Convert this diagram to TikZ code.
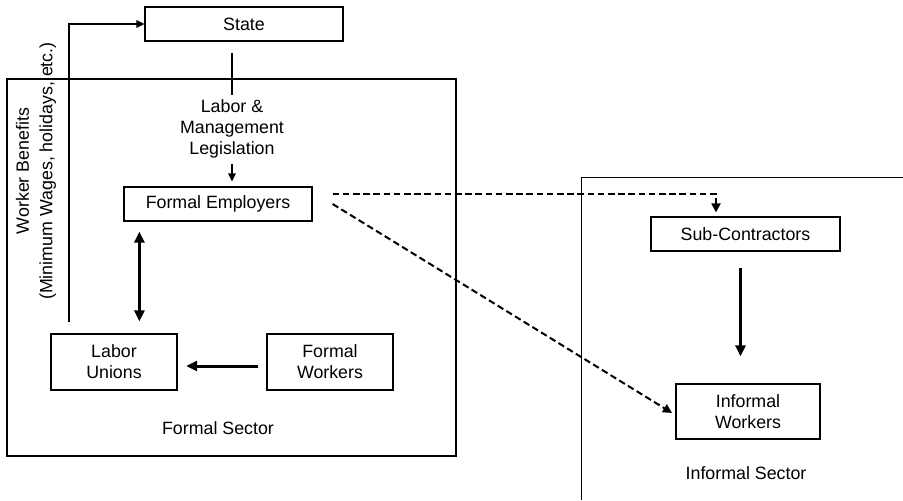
\documentclass[tikz,border=0pt]{standalone}
\usepackage{fontspec}
\setmainfont{Liberation Sans}
\usetikzlibrary{arrows.meta}

\tikzset{
    box/.style={draw, line width=0.6pt, inner sep=0pt, align=center},
    thinarrow/.style={line width=0.6pt, -{Triangle[length=4pt,width=3.8pt]}},
    thickarrow/.style={line width=1.5pt, -{Triangle[length=5.5pt,width=5pt]}},
    dblarrow/.style={line width=1.5pt, {Triangle[length=5.5pt,width=5pt]}-{Triangle[length=5.5pt,width=5pt]}},
    dasharrow/.style={line width=1pt, dash pattern=on 3.3pt off 1.8pt, -{Triangle[length=4.5pt,width=4.5pt]}}
}

\begin{document}
\begin{tikzpicture}[x=0.5pt, y=-0.5pt, font=\fontsize{8.9}{10.5}\selectfont]
    \useasboundingbox (0,0) rectangle (903,500);

    \def\formalsector{(7,79) rectangle (456,456)}
    \def\informalsector{(581.7,500) -- (581.7,177.7) -- (903,177.7)}

    %draw sectors:
    \draw[line width=0.6pt] \formalsector;
    \draw[line width=0.6pt] \informalsector;
    \node (formal) at (218,428) {Formal Sector};
    \node (informal) at (746,473) {Informal Sector};

    %boxes:
    \node[box, minimum width=99pt, minimum height=17pt] (state) at (244,24) {State};
    \node[box, minimum width=94pt, minimum height=17pt] (emp) at (218,204) {Formal Employers};
    \node[box, minimum width=63pt, minimum height=28pt] (unions) at (114,362) {Labor\\Unions};
    \node[box, minimum width=63pt, minimum height=28pt] (workers) at (330,362) {Formal\\Workers};
    \node[box, minimum width=94.5pt, minimum height=17pt] (sub) at (745.5,234) {Sub-Contractors};
    \node[box, minimum width=72pt, minimum height=27.5pt] (infwork) at (748,411.5) {Informal\\Workers};

    %labels:
    \node[inner sep=0pt, align=center] (leg) at (232,129) {Labor \&\\Management\\Legislation};
    \node[rotate=90, align=center, font=\fontsize{8.9}{11.8}\selectfont] (benefits) at (36,171)
        {Worker Benefits\\(Minimum Wages, holidays, etc.)};
    \coordinate (wb) at (69,322);

    %connectors:
    \draw[line width=0.6pt, shorten <=5.5pt, shorten >=2pt] (state.south -| leg.north) -- (leg.north);
    \draw[thinarrow, shorten <=2.5pt, shorten >=2.5pt] (leg.south) -- (leg.south |- emp.north);
    \draw[thinarrow] (wb) |- (state.west);
    \coordinate (c1) at ([xshift=8pt, yshift=-5pt]emp.south west);
    \draw[dblarrow, shorten >=6pt] (c1) -- (c1 |- unions.north);
    \draw[thickarrow, shorten <=4pt, shorten >=4.3pt] ([yshift=-2pt]workers.west) -- ([yshift=-2pt]unions.east);
    \draw[thickarrow, shorten <=8pt, shorten >=13.5pt] ([xshift=-2.5pt]sub.south) -- ([xshift=-2.5pt]sub.south |- infwork.north);
    \draw[dasharrow, shorten >=2pt] ([xshift=10pt, yshift=5pt]emp.east) -| ([xshift=-14.75pt]sub.north);
    \draw[dasharrow, shorten >=2pt] ([xshift=10pt]emp.east) -- ([yshift=-1.75pt]infwork.west);

\end{tikzpicture}
\end{document}
